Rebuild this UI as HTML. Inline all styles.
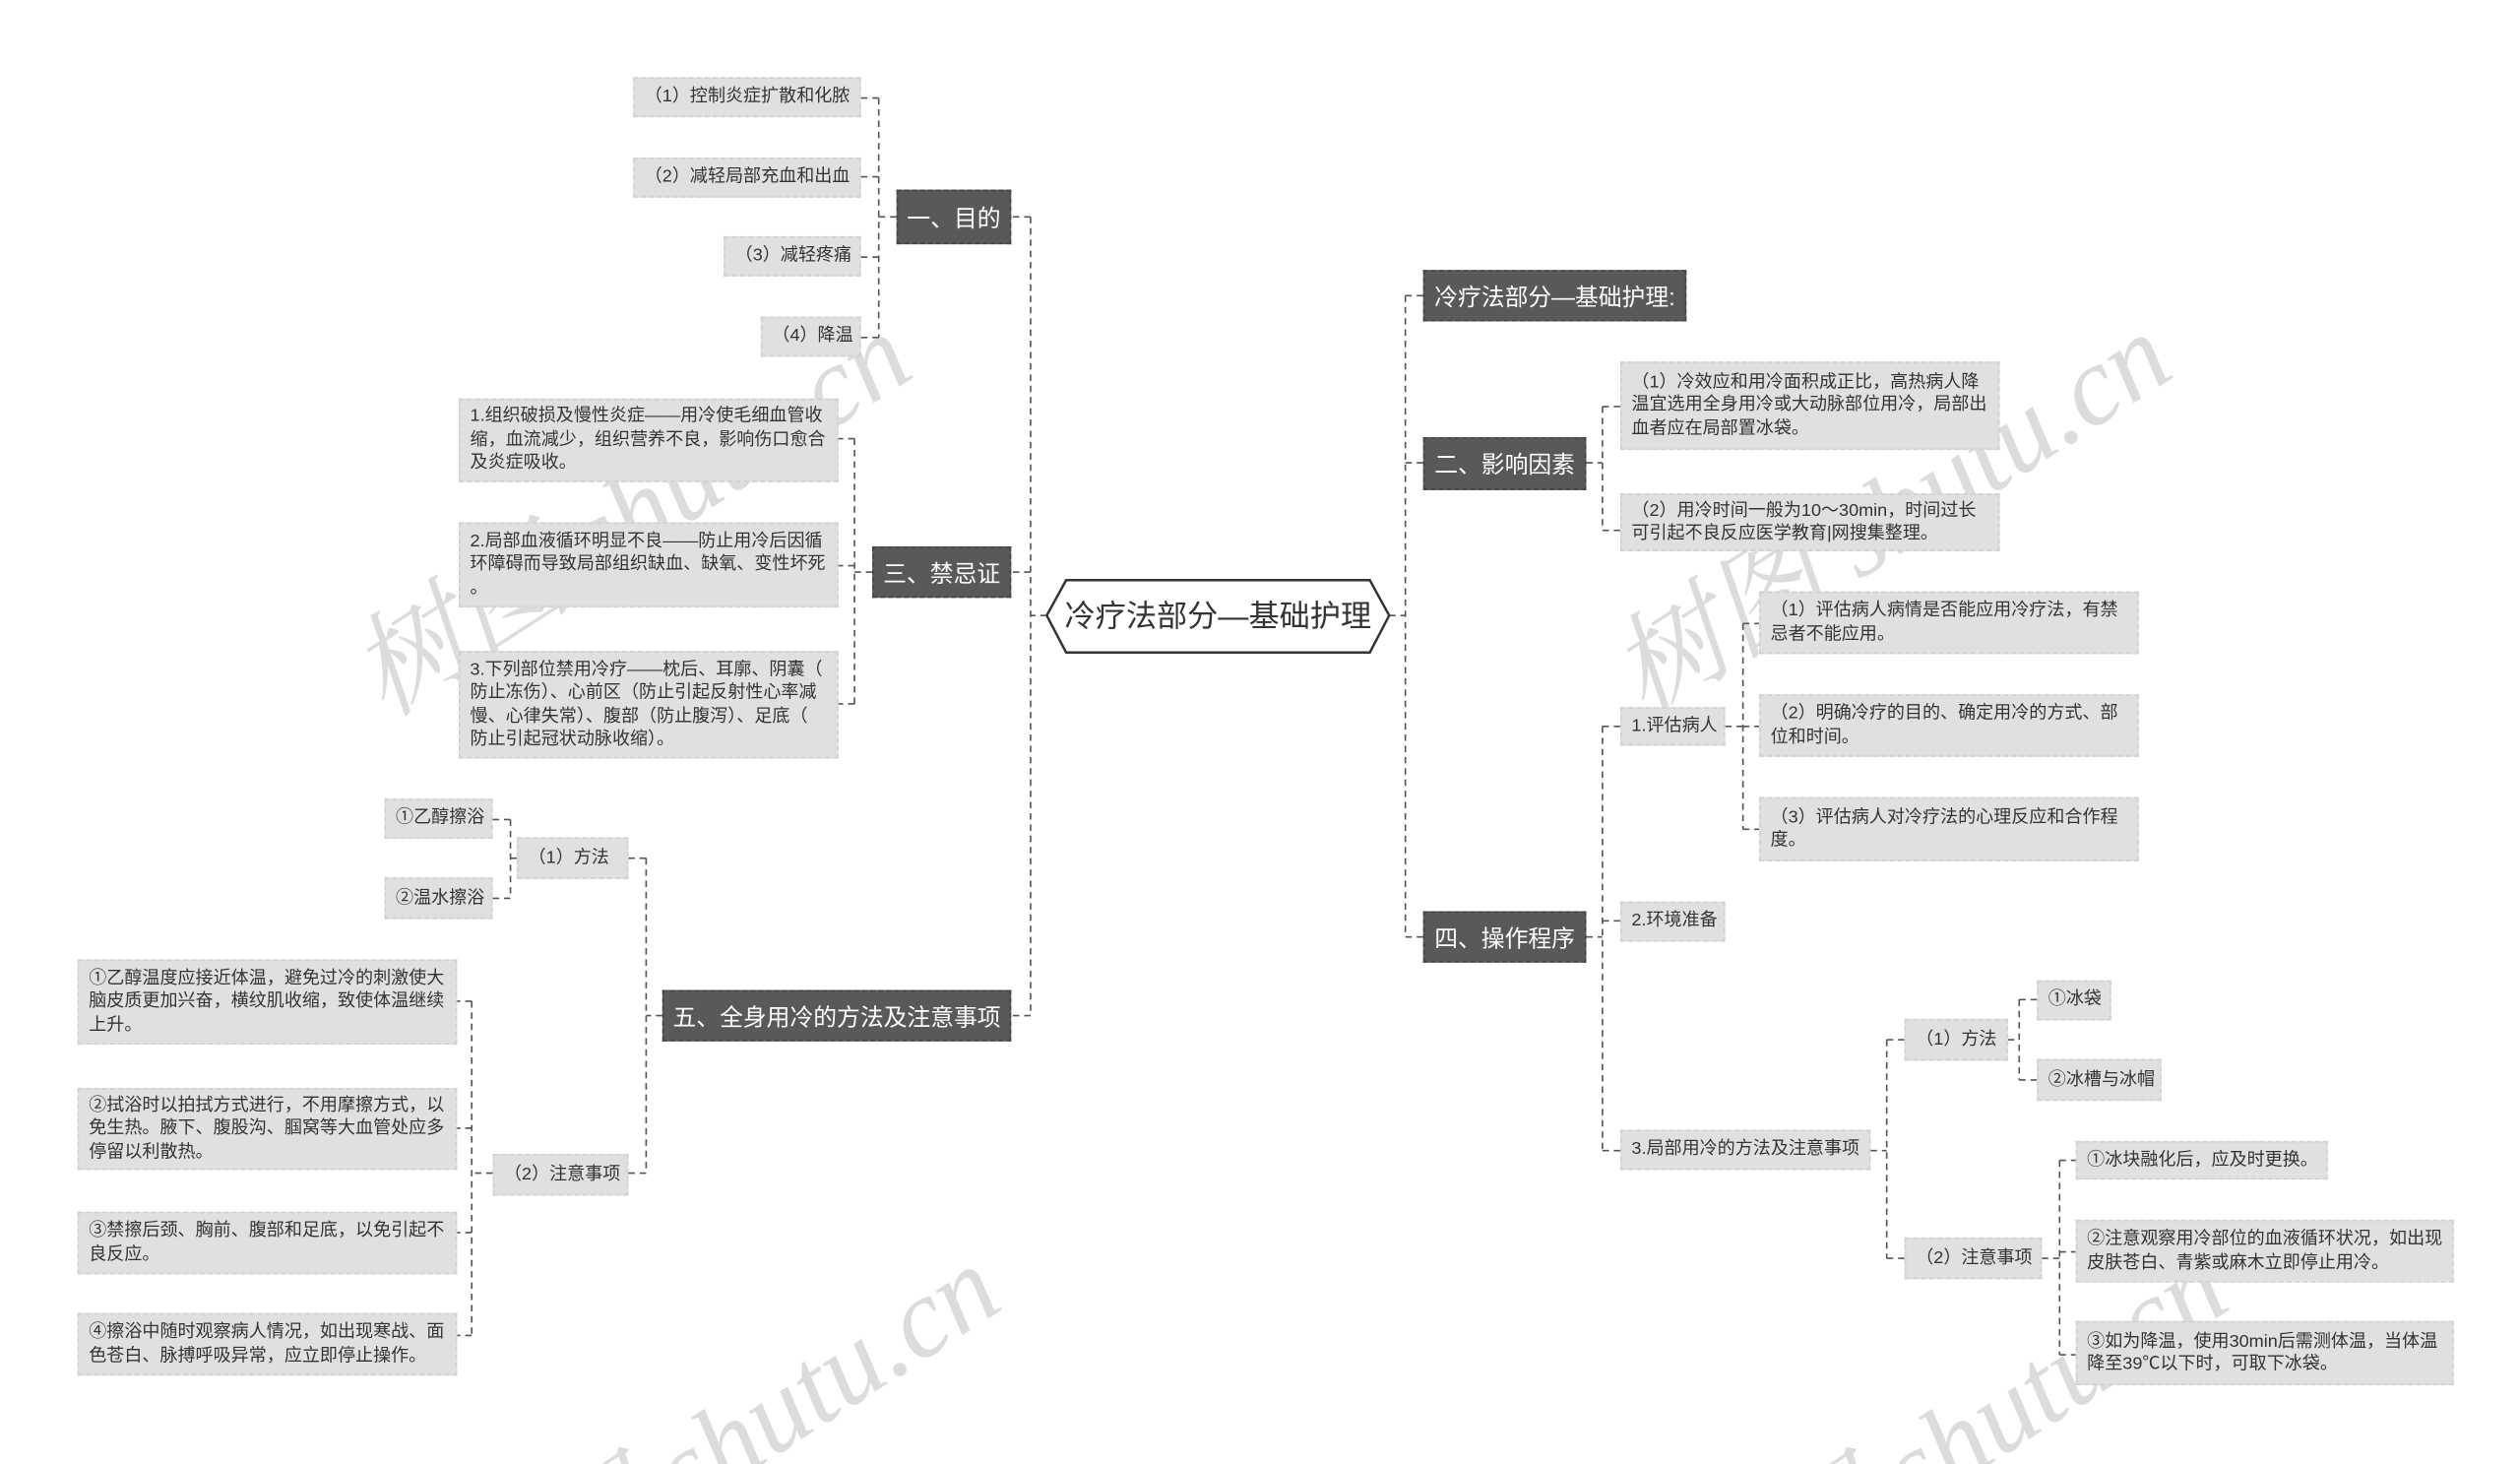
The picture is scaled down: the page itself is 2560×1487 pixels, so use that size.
<!DOCTYPE html>
<html><head><meta charset="utf-8"><style>
html,body{margin:0;padding:0;background:#fff;overflow:hidden;width:2560px;height:1487px}
#wrap{position:relative;width:1560px;height:911px;overflow:hidden;transform:scale(1.641,1.6323);transform-origin:0 0;font-family:"Liberation Sans","Noto Sans CJK SC",sans-serif}
.n{position:absolute;box-sizing:border-box;background:#e0e0e0;color:#333;font-size:11px;line-height:14.5px;padding:0 6px;border:1px dashed #d0d0d0;display:flex;align-items:center;white-space:nowrap}
.d{position:absolute;box-sizing:border-box;background:#595959;color:#fff;font-size:14.5px;display:flex;align-items:center;justify-content:center;white-space:nowrap;border:1px dashed #444}
.wm{position:absolute;color:#dcdcdc;font-family:"Liberation Serif","Noto Serif CJK SC",serif;font-style:italic;font-size:70px;transform:rotate(-33deg);transform-origin:0 0;white-space:nowrap}
svg{position:absolute;left:0;top:0}
</style></head><body><div id="wrap">
<div class="wm" style="left:195px;top:380px">树图 shutu.cn</div>
<div class="wm" style="left:975px;top:380px">树图 shutu.cn</div>
<div class="wm" style="left:250px;top:960px">树图 shutu.cn</div>
<div class="wm" style="left:1010px;top:960px">树图 shutu.cn</div>
<svg width="1560" height="911"><g fill="none" stroke="#555" stroke-width="1" stroke-dasharray="4,3">
<path d="M648 383H638M638 135V632M638 135H626M638 356H626M638 632H626"/>
<path d="M555 135H544M544 61V210M544 61H533M544 110H533M544 160H533M544 210H533"/>
<path d="M540 356H529M529 273V438M529 273H519M529 352H519M529 438H519"/>
<path d="M410 632H400M400 534V730M400 534H389M400 730H389"/>
<path d="M320 534H316M316 510V559M316 510H305M316 559H305"/>
<path d="M305 730H292M292 623V831M292 623H283M292 702H283M292 767H283M292 831H283"/>
<path d="M860 383H870M870 184V583M870 184H881M870 288H881M870 583H881"/>
<path d="M982 288H992M992 253V330M992 253H1003M992 330H1003"/>
<path d="M982 583H992M992 452V716M992 452H1003M992 573H1003M992 716H1003"/>
<path d="M1068 452H1079M1079 388V516M1079 388H1089M1079 452H1089M1079 516H1089"/>
<path d="M1158 716H1168M1168 647V783M1168 647H1179M1168 783H1179"/>
<path d="M1243 647H1250M1250 622V672M1250 622H1261M1250 672H1261"/>
<path d="M1264 783H1275M1275 722V843M1275 722H1285M1275 779H1285M1275 843H1285"/>
</g>
<polygon points="660,361 848,361 860,383 848,406 660,406 648,383" fill="#fff" stroke="#333" stroke-width="1.5"/>
<text x="754" y="390" text-anchor="middle" font-size="19" fill="#333" font-family="Liberation Sans, Noto Sans CJK SC, sans-serif">冷疗法部分—基础护理</text>
</svg>

<div class="d" style="left:555px;top:118px;width:71px;height:34px">一、目的</div>
<div class="d" style="left:540px;top:340px;width:86px;height:32px">三、禁忌证</div>
<div class="d" style="left:410px;top:616px;width:216px;height:32px">五、全身用冷的方法及注意事项</div>
<div class="d" style="left:881px;top:168px;width:163px;height:32px">冷疗法部分—基础护理:</div>
<div class="d" style="left:881px;top:272px;width:101px;height:33px">二、影响因素</div>
<div class="d" style="left:881px;top:567px;width:101px;height:32px">四、操作程序</div>

<div class="n" style="left:392px;top:48px;width:141px;height:25px">（1）控制炎症扩散和化脓</div>
<div class="n" style="left:392px;top:98px;width:141px;height:25px">（2）减轻局部充血和出血</div>
<div class="n" style="left:448px;top:147px;width:85px;height:25px">（3）减轻疼痛</div>
<div class="n" style="left:471px;top:197px;width:62px;height:25px">（4）降温</div>

<div class="n" style="left:284px;top:248px;width:235px;height:52px">1.组织破损及慢性炎症——用冷使毛细血管收<br>缩，血流减少，组织营养不良，影响伤口愈合<br>及炎症吸收。</div>
<div class="n" style="left:284px;top:325px;width:235px;height:53px">2.局部血液循环明显不良——防止用冷后因循<br>环障碍而导致局部组织缺血、缺氧、变性坏死<br>。</div>
<div class="n" style="left:284px;top:405px;width:235px;height:67px">3.下列部位禁用冷疗——枕后、耳廓、阴囊（<br>防止冻伤）、心前区（防止引起反射性心率减<br>慢、心律失常）、腹部（防止腹泻）、足底（<br>防止引起冠状动脉收缩）。</div>

<div class="n" style="left:320px;top:521px;width:69px;height:26px">（1）方法</div>
<div class="n" style="left:238px;top:497px;width:67px;height:25px">①乙醇擦浴</div>
<div class="n" style="left:238px;top:546px;width:67px;height:26px">②温水擦浴</div>
<div class="n" style="left:305px;top:718px;width:84px;height:26px">（2）注意事项</div>
<div class="n" style="left:48px;top:597px;width:235px;height:53px">①乙醇温度应接近体温，避免过冷的刺激使大<br>脑皮质更加兴奋，横纹肌收缩，致使体温继续<br>上升。</div>
<div class="n" style="left:48px;top:677px;width:235px;height:51px">②拭浴时以拍拭方式进行，不用摩擦方式，以<br>免生热。腋下、腹股沟、腘窝等大血管处应多<br>停留以利散热。</div>
<div class="n" style="left:48px;top:754px;width:235px;height:39px">③禁擦后颈、胸前、腹部和足底，以免引起不<br>良反应。</div>
<div class="n" style="left:48px;top:817px;width:235px;height:39px">④擦浴中随时观察病人情况，如出现寒战、面<br>色苍白、脉搏呼吸异常，应立即停止操作。</div>

<div class="n" style="left:1003px;top:225px;width:235px;height:55px">（1）冷效应和用冷面积成正比，高热病人降<br>温宜选用全身用冷或大动脉部位用冷，局部出<br>血者应在局部置冰袋。</div>
<div class="n" style="left:1003px;top:307px;width:235px;height:36px">（2）用冷时间一般为10～30min，时间过长<br>可引起不良反应医学教育|网搜集整理。</div>

<div class="n" style="left:1003px;top:440px;width:65px;height:24px">1.评估病人</div>
<div class="n" style="left:1089px;top:368px;width:235px;height:39px">（1）评估病人病情是否能应用冷疗法，有禁<br>忌者不能应用。</div>
<div class="n" style="left:1089px;top:432px;width:235px;height:39px">（2）明确冷疗的目的、确定用冷的方式、部<br>位和时间。</div>
<div class="n" style="left:1089px;top:496px;width:235px;height:40px">（3）评估病人对冷疗法的心理反应和合作程<br>度。</div>
<div class="n" style="left:1003px;top:561px;width:65px;height:25px">2.环境准备</div>
<div class="n" style="left:1003px;top:703px;width:155px;height:25px">3.局部用冷的方法及注意事项</div>
<div class="n" style="left:1179px;top:634px;width:64px;height:26px">（1）方法</div>
<div class="n" style="left:1261px;top:610px;width:46px;height:25px">①冰袋</div>
<div class="n" style="left:1261px;top:659px;width:77px;height:26px">②冰槽与冰帽</div>
<div class="n" style="left:1179px;top:770px;width:85px;height:26px">（2）注意事项</div>
<div class="n" style="left:1285px;top:710px;width:156px;height:24px">①冰块融化后，应及时更换。</div>
<div class="n" style="left:1285px;top:759px;width:234px;height:39px">②注意观察用冷部位的血液循环状况，如出现<br>皮肤苍白、青紫或麻木立即停止用冷。</div>
<div class="n" style="left:1285px;top:822px;width:234px;height:40px">③如为降温，使用30min后需测体温，当体温<br>降至39℃以下时，可取下冰袋。</div>
</div></body></html>
